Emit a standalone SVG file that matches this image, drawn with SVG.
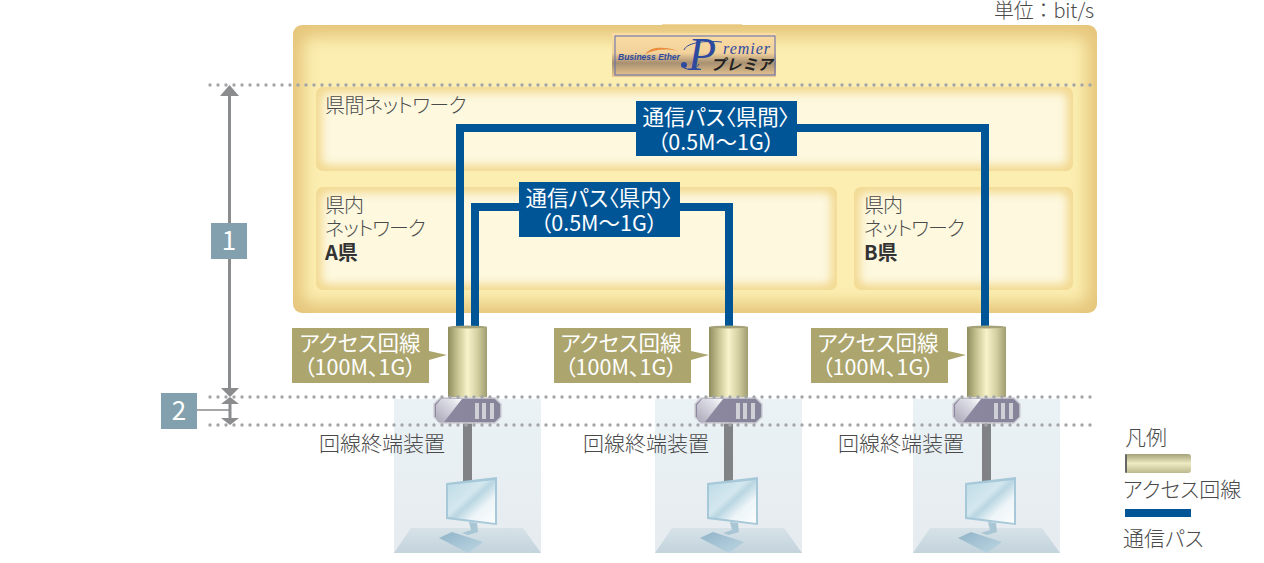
<svg xmlns="http://www.w3.org/2000/svg" xmlns:xlink="http://www.w3.org/1999/xlink" width="1264" height="563" viewBox="0 0 1264 563">
<style>
text{font-family:"Noto Sans CJK JP","Noto Sans",sans-serif;font-weight:300;fill:#4a4a4a;font-size:20px;font-feature-settings:"palt"}
.w{fill:#fff;font-weight:400;font-size:21.500px}
.c{text-anchor:middle}
.b{font-weight:700;fill:#333}
.n{letter-spacing:-1px}
.l{font-size:21px}
.dot{fill:none;stroke:#a3a5a8;stroke-width:3.4;stroke-linecap:round;stroke-dasharray:0 8}
.path{fill:none;stroke:#005596;stroke-width:8}
.lab{fill:#005596}
.call{fill:#aca66e}
.arrow{fill:#8a8c8e}
.sq{fill:#83a0ae}
.t{font-size:21px}
</style>
<defs>
<filter id="bl" x="-10%" y="-25%" width="120%" height="150%"><feGaussianBlur stdDeviation="8"/></filter>
<filter id="bs" x="-10%" y="-25%" width="120%" height="150%"><feGaussianBlur stdDeviation="4"/></filter>
<clipPath id="co"><rect x="293" y="25" width="804" height="288" rx="9"/></clipPath>
<clipPath id="c1"><rect x="316" y="87" width="757" height="84" rx="7"/></clipPath>
<clipPath id="c2"><rect x="316" y="187" width="521" height="103" rx="7"/></clipPath>
<clipPath id="c3"><rect x="854" y="187" width="219" height="103" rx="7"/></clipPath>
<linearGradient id="cyl"><stop offset="0" stop-color="#8f8c5e"/><stop offset=".25" stop-color="#c8c492"/><stop offset=".5" stop-color="#f8f3cb"/><stop offset=".75" stop-color="#d4d0a2"/><stop offset="1" stop-color="#a09d70"/></linearGradient>
<linearGradient id="cylh" x2="0" y2="1"><stop offset="0" stop-color="#a5a27a"/><stop offset=".5" stop-color="#efeac2"/><stop offset="1" stop-color="#bdb98e"/></linearGradient>
<linearGradient id="pan" x2="0" y2="1"><stop offset="0" stop-color="#eaf2f6"/><stop offset="1" stop-color="#e6ebef"/></linearGradient>
<linearGradient id="table" x2="0" y2="1"><stop offset="0" stop-color="#d6e2e8"/><stop offset="1" stop-color="#c3d3dc"/></linearGradient>
<linearGradient id="scr" x2="1" y2="1"><stop offset="0" stop-color="#bcdbe8"/><stop offset=".4" stop-color="#d4e7ee"/><stop offset=".5" stop-color="#b9d6e2"/><stop offset=".7" stop-color="#eef5f8"/><stop offset="1" stop-color="#fbfdfd"/></linearGradient>
<linearGradient id="key" x1="0" y1="0" x2="1" y2="1"><stop offset="0" stop-color="#90b4c8"/><stop offset="1" stop-color="#bdd6e2"/></linearGradient>
<linearGradient id="dev" x1="0" y1="0" x2="1" y2="0"><stop offset="0" stop-color="#8d88a0"/><stop offset="1" stop-color="#86849a"/></linearGradient>
<linearGradient id="shine" x1="0" y1="1" x2="1" y2="0"><stop offset="0" stop-color="#aaa8b8"/><stop offset=".75" stop-color="#e2e2ea"/><stop offset="1" stop-color="#fff"/></linearGradient>
<linearGradient id="logo" x2="0" y2="1"><stop offset="0" stop-color="#fbdca4"/><stop offset=".45" stop-color="#f3d29c"/><stop offset=".68" stop-color="#a89072"/><stop offset="1" stop-color="#edc992"/></linearGradient>
<g id="unit">
<rect x="394" y="399" width="147" height="154" fill="url(#pan)"/>
<polygon points="411,528 523,528 541,553 394,553" fill="url(#table)"/>
<rect x="463" y="423" width="9" height="60" fill="#808285"/>
<polygon points="469,522 477,523 478,532 468,535 462,533 471,530" fill="#a9c6d4"/>
<polygon points="446,483 497,477 497,525 446,519" fill="#a6c8d8"/>
<polygon points="448,485 495,480 495,523 448,517" fill="url(#scr)"/>
<polygon points="439,538 452,532 483,542 468,553" fill="url(#key)"/>
<rect x="448" y="327" width="39" height="70" fill="url(#cyl)"/>
<ellipse cx="467.500" cy="327" rx="19.500" ry="1.500" fill="#a5a27a"/>
<path d="M440 398H495L501 404V417L495 423H440L434 417V404Z" fill="url(#dev)" stroke="#cfcfd6" stroke-width="1.500"/>
<polygon points="436,418 436,405 441,399 462,399 444,422 438,422" fill="url(#shine)"/>
<path d="M475 403h4v16h-4zM482 403h4v16h-4zM490 403h4v16h-4z" fill="#cfcfd6"/>
</g>
</defs>

<g id="base">
<rect x="662" y="24" width="80" height="3" fill="#f0d9a0"/>
<rect x="293" y="25" width="804" height="288" rx="9" fill="#e6c67c"/>
<g clip-path="url(#co)"><rect x="303" y="37" width="784" height="266" rx="8" fill="#fbeeb0" filter="url(#bl)"/></g>
</g>
<g id="net-inter">
<rect x="316" y="87" width="757" height="84" rx="7" fill="#f3da93"/>
<g clip-path="url(#c1)"><rect x="322" y="93" width="745" height="72" rx="6" fill="#fdf8de" filter="url(#bs)"/></g>
<text x="325" y="113" style="letter-spacing:-.6px">県間ネットワーク</text>
</g>
<g id="net-a">
<rect x="316" y="187" width="521" height="103" rx="7" fill="#f3da93"/>
<g clip-path="url(#c2)"><rect x="322" y="193" width="509" height="91" rx="6" fill="#fdf8de" filter="url(#bs)"/></g>
<text x="325" y="213" class="n">県内</text><text x="325" y="236" class="n">ネットワーク</text><text x="325" y="260" class="b">A県</text>
</g>
<g id="net-b">
<rect x="854" y="187" width="219" height="103" rx="7" fill="#f3da93"/>
<g clip-path="url(#c3)"><rect x="860" y="193" width="207" height="91" rx="6" fill="#fdf8de" filter="url(#bs)"/></g>
<text x="864" y="213" class="n">県内</text><text x="864" y="236" class="n">ネットワーク</text><text x="864" y="260" class="b">B県</text>
</g>
<g id="logo-mark">
<rect x="612" y="33" width="164" height="44" fill="url(#logo)"/>
<rect x="615" y="36" width="160" height="39" fill="none" stroke="#5c6cae" stroke-width="1"/>
<path d="M645 54C654 50 664 48 678 51 668 47 658 47 652 49 649 50 647 52 645 54Z" fill="#e88b3c"/>
<text x="618" y="60" style="font-family:'Liberation Sans',sans-serif;font-size:8.500px;font-weight:700;font-style:italic;fill:#2e4a9e">Business Ether</text>
<path d="M684 50C686 44 700 40 722 42" fill="none" stroke="#2e4a9e" stroke-width="1"/>
<circle cx="684" cy="65" r="3" fill="#2e4a9e"/>
<path d="M684 68C692 71 696 69 699 64" fill="none" stroke="#2e4a9e" stroke-width="1"/>
<text x="688" y="70" style="font-family:'Liberation Serif',serif;font-size:46px;font-style:italic;font-weight:400;fill:#2e4a9e;font-feature-settings:normal">P</text>
<text x="723" y="54" style="font-family:'Liberation Serif',serif;font-size:16px;font-style:italic;font-weight:400;letter-spacing:1px;fill:#2e4a9e">remier</text>
<text x="711" y="70" style="font-size:15px;font-style:italic;font-weight:700;letter-spacing:2px;fill:#222">プレミア</text>
</g>
<text id="unit-note" x="994" y="18" style="font-feature-settings:normal;letter-spacing:-.2px">単位：bit/s</text>

<g id="connectors">
<path class="path" d="M460 327V128H985V327"/>
<path class="path" d="M475 327V207H729V327"/>
<path d="M229.500 90V392" fill="none" stroke="#8a8c8e" stroke-width="3"/>
<path d="M197 410H229.500" fill="none" stroke="#a5a7a9" stroke-width="2"/>
<path class="arrow" d="M220 96L229.500 85 239 96ZM221 388H239L230 397ZM221 404L230 397 239 404H231.500V418H239L230 425 221 418H228.500V404Z"/>
</g>
<g id="unit-a"><use xlink:href="#unit" href="#unit"/></g>
<g id="unit-b"><use xlink:href="#unit" href="#unit" x="261"/></g>
<g id="unit-c"><use xlink:href="#unit" href="#unit" x="519"/></g>
<g id="guides">
<path class="dot" d="M210 85H1098M210 397H1098M210 425H1098"/>
</g>
<g id="label-inter">
<rect class="lab" x="636" y="101" width="161" height="55"/>
<text class="w c" x="716" y="125">通信パス〈県間〉</text>
<text class="w c" x="716" y="150">（0.5M～1G）</text>
</g>
<g id="label-intra">
<rect class="lab" x="519" y="182" width="161" height="55"/>
<text class="w c" x="599" y="206">通信パス〈県内〉</text>
<text class="w c" x="599" y="231">（0.5M～1G）</text>
</g>
<g id="callout-a">
<path class="call" d="M292 328H429V351L447 355 429 360V383H292Z"/>
<text class="w c" x="360" y="351">アクセス回線</text><text class="w c" x="360" y="375">（100M、1G）</text>
</g>
<g id="callout-b">
<path class="call" d="M554 328H691V351L709 355 691 360V383H554Z"/>
<text class="w c" x="621" y="351">アクセス回線</text><text class="w c" x="621" y="375">（100M、1G）</text>
</g>
<g id="callout-c">
<path class="call" d="M811 328H948V351L966 355 948 360V383H811Z"/>
<text class="w c" x="878" y="351">アクセス回線</text><text class="w c" x="878" y="375">（100M、1G）</text>
</g>
<g id="term-a"><text x="319" y="451" class="t">回線終端装置</text></g>
<g id="term-b"><text x="583" y="451" class="t">回線終端装置</text></g>
<g id="term-c"><text x="838" y="451" class="t">回線終端装置</text></g>
<g id="tag-1"><rect class="sq" x="211" y="223" width="36" height="36"/><text class="w c" x="229" y="250" style="font-size:26px">1</text></g>
<g id="tag-2"><rect class="sq" x="161" y="393" width="36" height="36"/><text class="w c" x="179" y="420" style="font-size:26px">2</text></g>
<g id="legend">
<text x="1125" y="445" class="l">凡例</text>
<rect x="1125" y="454" width="66" height="19" rx="3" fill="url(#cylh)"/>
<rect x="1125" y="454" width="2" height="19" rx="1" fill="#666"/>
<text x="1123" y="497" class="l">アクセス回線</text>
<rect x="1125" y="509" width="66" height="8" fill="#005596"/>
<text x="1123" y="546" class="l">通信パス</text>
</g>
</svg>
